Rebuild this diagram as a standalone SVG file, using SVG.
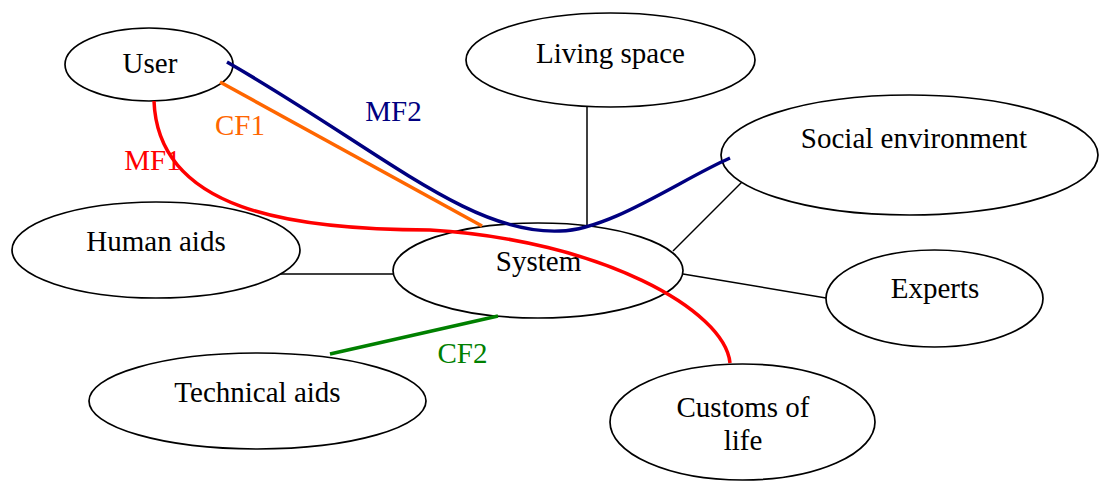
<svg xmlns="http://www.w3.org/2000/svg" width="1099" height="481" viewBox="0 0 1099 481">
  <style>
    .node ellipse { fill: #ffffff; stroke: #000000; stroke-width: 1.7; }
    .node text, .lbl { font-family: "Liberation Serif", "Times New Roman", serif; font-size: 29px; text-anchor: middle; }
    .node text { fill: #000000; }
    .link { fill: none; stroke: #000000; stroke-width: 1.5; }
    .flow { fill: none; stroke-width: 3.5; }
    .mf1 { stroke: #ff0000; fill: none; }
    .cf1 { stroke: #ff6600; fill: none; }
    .mf2 { stroke: #000080; fill: none; }
    .cf2 { stroke: #008000; fill: none; }
  </style>
  <rect width="1099" height="481" fill="#ffffff"/>

  <!-- plain links between System and its surroundings -->
  <g id="connectors">
    <line class="link" x1="587" y1="107" x2="587" y2="225"/>
    <line class="link" x1="673" y1="251" x2="746" y2="178"/>
    <line class="link" x1="683" y1="274" x2="826" y2="298"/>
    <line class="link" x1="280" y1="274" x2="398" y2="274"/>
  </g>

  <!-- nodes -->
  <g id="node-user" class="node">
    <ellipse cx="149" cy="64.5" rx="84" ry="36.5"/>
    <text x="150" y="73">User</text>
  </g>
  <g id="node-living-space" class="node">
    <ellipse cx="610.5" cy="60" rx="144.5" ry="47"/>
    <text x="610.5" y="62.5">Living space</text>
  </g>
  <g id="node-social-environment" class="node">
    <ellipse cx="909.5" cy="155" rx="188.5" ry="60"/>
    <text x="914" y="148">Social environment</text>
  </g>
  <g id="node-human-aids" class="node">
    <ellipse cx="156" cy="250" rx="144" ry="48"/>
    <text x="156" y="250.5">Human aids</text>
  </g>
  <g id="node-system" class="node">
    <ellipse cx="538" cy="270.5" rx="145" ry="47.5"/>
    <text x="538.5" y="270.5">System</text>
  </g>
  <g id="node-experts" class="node">
    <ellipse cx="934.5" cy="298.5" rx="108.5" ry="48.5"/>
    <text x="935" y="298">Experts</text>
  </g>
  <g id="node-technical-aids" class="node">
    <ellipse cx="257.5" cy="401" rx="168.5" ry="48"/>
    <text x="257.5" y="402">Technical aids</text>
  </g>
  <g id="node-customs-of-life" class="node">
    <ellipse cx="742.5" cy="422" rx="132.5" ry="58"/>
    <text x="743" y="416.5">Customs of</text>
    <text x="743" y="450">life</text>
  </g>

  <!-- material and control flows -->
  <g id="flows">
    <path class="flow mf1" d="M154,101 C158,210 290,230 430,230 C600,240 725,310 730,363"/>
    <line class="flow cf1" x1="220" y1="82" x2="482" y2="226"/>
    <path class="flow mf2" d="M227,62 C380,150 470,235 560,231 C610,230 680,180 730,158"/>
    <line class="flow cf2" x1="330" y1="354" x2="498" y2="316"/>
    <text class="lbl" x="152.5" y="170" fill="#ff0000">MF1</text>
    <text class="lbl" x="240" y="135" fill="#ff6600">CF1</text>
    <text class="lbl" x="393.5" y="121" fill="#000080">MF2</text>
    <text class="lbl" x="462.5" y="363" fill="#008000">CF2</text>
  </g>
</svg>
